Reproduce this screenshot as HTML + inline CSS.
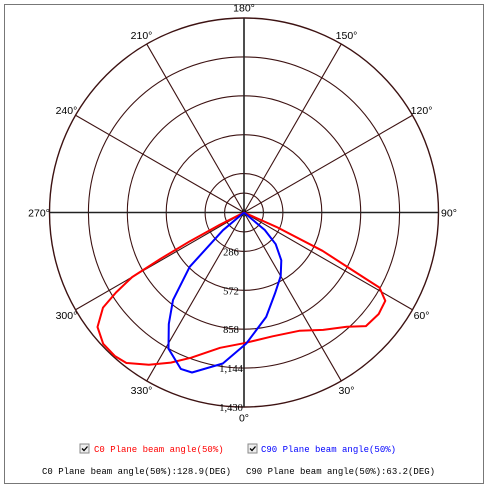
<!DOCTYPE html>
<html><head><meta charset="utf-8">
<style>
html,body{margin:0;padding:0;background:#fff;}
#wrap{position:relative;width:490px;height:487px;overflow:hidden;}
#frame{position:absolute;left:4px;top:4px;width:480px;height:480px;border:1px solid #777;box-sizing:border-box;}
svg{position:absolute;left:0;top:0;}
.mono{font-family:"Liberation Mono","Noto Sans CJK SC",monospace;font-size:9px;}
</style></head>
<body>
<div id="wrap">
<div id="frame"></div>
<svg id="chart" width="490" height="487"></svg>
</div>
<script>
const ringValues = [286, 572, 858, 1144, 1430];
const ringLabels = ["286", "572", "858", "1,144", "1,430"];
const spokeAngles = [0, 30, 60, 90, 120, 150, 180, 210, 240, 270, 300, 330];
const angleLabels = ["0°","30°","60°","90°","120°","150°","180°","210°","240°","270°","300°","330°"];
const c0Angles = [-70,-63,-62,-61,-60,-58,-56,-52,-47,-42,-38,-32,-26,-20,-10,0,13,25,34,42,47,53,58,61,62,64,66,70];
const c0Values = [0,200,450,700,950,1110,1250,1367,1415,1420,1404,1320,1228,1136,1010,961,934,960,1041,1130,1225,1240,1225,1139,900,642,261,0];
const c90Angles = [-55,-50,-45,-39,-34,-29,-22,-18,-8,1,12,21,30,38,45,50,55];
const c90Values = [0,202,565,829,989,1145,1240,1237,1121,963,785,637,540,446,330,200,0];

const NS = "http://www.w3.org/2000/svg";
const svg = document.getElementById("chart");
const cx = 244, cy = 212.5, R = 194.5, maxV = 1430;
function rScale(v){ return v / maxV * R; }
function px(a, v){ return cx + rScale(v) * Math.sin(a * Math.PI / 180); }
function py(a, v){ return cy + rScale(v) * Math.cos(a * Math.PI / 180); }
function mk(tag, attrs){ const e = document.createElementNS(NS, tag); for (const k in attrs) e.setAttribute(k, attrs[k]); svg.appendChild(e); return e; }

const grid = "#3d1212";
ringValues.forEach((v, i) => {
  const c = mk("circle", {cx: cx, cy: cy, r: rScale(v), fill: "none", stroke: grid, "stroke-width": i === 4 ? 1.4 : 1.1});
  
  
});
const inner = mk("circle", {cx: cx, cy: cy, r: rScale(143), fill: "none", stroke: grid, "stroke-width": 1.1});


spokeAngles.forEach((a) => {
  const main = (a % 90 === 0);
  const l = mk("line", {x1: cx, y1: cy, x2: px(a, maxV), y2: py(a, maxV), stroke: main ? "#222" : grid, "stroke-width": main ? 1.6 : 1.1});
  
  
});
spokeAngles.forEach((a, i) => {
  const lr = maxV * 205 / 194.5;
  const t = mk("text", {x: px(a, lr), y: py(a, lr) + 4, "text-anchor": "middle", "font-family": "Liberation Sans, sans-serif", "font-size": "10.5", fill: "#000"});
  t.textContent = angleLabels[i];
  
  
});
const z = mk("text", {x: cx, y: cy + 4, "text-anchor": "middle", "font-family": "Liberation Serif, serif", "font-size": "10.5", fill: "#000"});
z.textContent = "0";


ringValues.forEach((v, i) => {
  const t = mk("text", {x: cx - 13, y: cy + rScale(v) + 4, "text-anchor": "middle", "font-family": "Liberation Serif, serif", "font-size": "10.5", fill: "#000"});
  t.textContent = ringLabels[i];
  
  
});
function curve(angles, vals, color, name){
  let d = "";
  angles.forEach((a, i) => { d += (i ? "L" : "M") + px(a, vals[i]).toFixed(1) + "," + py(a, vals[i]).toFixed(1); });
  const p = mk("path", {d: d, fill: "none", stroke: color, "stroke-width": 2, "stroke-linejoin": "round"});
  
  
}
curve(c0Angles, c0Values, "#ff0000", "c0-plane-curve");
curve(c90Angles, c90Values, "#0000ff", "c90-plane-curve");

function checkbox(x, y, name){
  const b = mk("rect", {x: x, y: y, width: 9, height: 9, fill: "#eee", stroke: "#888", "stroke-width": 1});
  
  
  const m = mk("path", {d: `M${x+2},${y+4.5} L${x+4},${y+6.5} L${x+7.5},${y+2.5}`, fill: "none", stroke: "#000", "stroke-width": 1.3});
  
  
}
function txt(x, y, s, color, name){
  const t = mk("text", {x: x, y: y, class: "mono", fill: color});
  t.textContent = s;
  
  
}
checkbox(80, 444, "c0-legend-checkbox");
txt(94, 452, "C0 Plane beam angle(50%)", "#ff0000", "c0-legend-entry");
checkbox(248, 444, "c90-legend-checkbox");
txt(261, 452, "C90 Plane beam angle(50%)", "#0000ff", "c90-legend-entry");
txt(42, 474, "C0 Plane beam angle(50%):128.9(DEG)", "#000", "c0-beam-angle-summary");
txt(246, 474, "C90 Plane beam angle(50%):63.2(DEG)", "#000", "c90-beam-angle-summary");
</script>
</body></html>
